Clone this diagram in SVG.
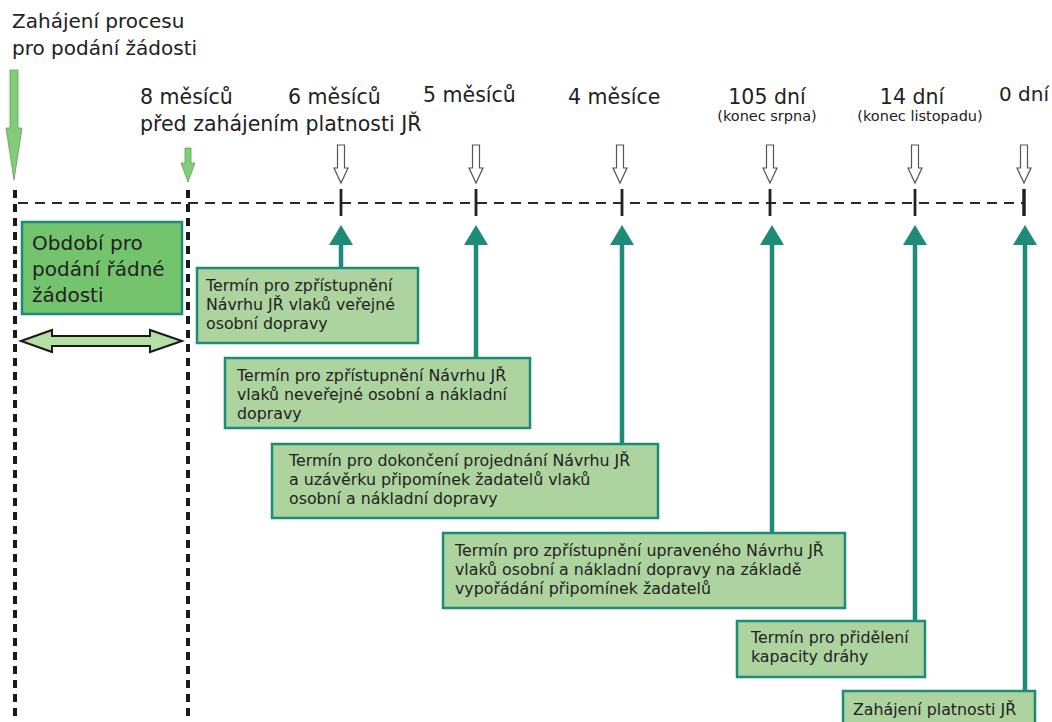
<svg xmlns="http://www.w3.org/2000/svg" width="1052" height="722" viewBox="0 0 1052 722">
<defs>
<style>
.t{font-family:"DejaVu Sans","Verdana",sans-serif;fill:#222}
.lab{font-size:20.5px}
.sm{font-size:14.5px}
.bx{font-size:15.8px}
.box{fill:#add39f;stroke:#1d8b78;stroke-width:2.5}
.vd{stroke:#1a1a1a;stroke-width:4;stroke-dasharray:8 6;fill:none}
.hd{stroke:#2a2a2a;stroke-width:2.2;stroke-dasharray:10 7;fill:none}
.tick{stroke:#222;stroke-width:2.8}
.hol{fill:#fff;stroke:#555;stroke-width:1.2}
.tl{stroke:#1d8b78;stroke-width:4.5;fill:none}
.th{fill:#1d8b78}
</style>
<path id="hollow" d="M-3.5,0 H3.5 V23 H7 L0,38 L-7,23 H-3.5 Z" class="hol"/>
<path id="thead" d="M0,0 L12,20 L-12,20 Z" class="th"/>
</defs>

<g id="top-labels">
<text class="t" x="12" y="28" style="font-size:20px">Zahájení procesu</text>
<text class="t" x="12" y="55" style="font-size:20px">pro podání žádosti</text>
<text class="t lab" x="140" y="104">8 měsíců</text>
<text class="t lab" x="140" y="131">před zahájením platnosti JŘ</text>
<text class="t lab" x="288" y="104">6 měsíců</text>
<text class="t lab" x="423" y="102">5 měsíců</text>
<text class="t lab" x="568" y="104">4 měsíce</text>
<text class="t lab" x="767" y="104" text-anchor="middle">105 dní</text>
<text class="t sm" x="767" y="121" text-anchor="middle">(konec srpna)</text>
<text class="t lab" x="912" y="104" text-anchor="middle">14 dní</text>
<text class="t sm" x="920" y="121" text-anchor="middle">(konec listopadu)</text>
<text class="t lab" x="999" y="101" style="font-size:20px">0 dní</text>
</g>

<g id="timeline">
<line class="hd" x1="18" y1="203" x2="1024" y2="203"/>
<line class="vd" x1="15" y1="190" x2="15" y2="722"/>
<line class="vd" x1="188" y1="190" x2="188" y2="722"/>
<line class="tick" x1="341" y1="189" x2="341" y2="216"/>
<line class="tick" x1="476" y1="189" x2="476" y2="216"/>
<line class="tick" x1="622" y1="189" x2="622" y2="216"/>
<line class="tick" x1="770" y1="189" x2="770" y2="216"/>
<line class="tick" x1="915" y1="189" x2="915" y2="216"/>
<line class="tick" x1="1024" y1="189" x2="1024" y2="216" style="stroke-width:3.5"/>
</g>

<g id="start-arrows">
<path d="M10,70 H18 V128 H22 L14,180 L6,128 H10 Z" fill="#83cc7a" stroke="#5aa352" stroke-width="0.8"/>
<path d="M185,148 H191 V163 H195 L188,182 L181,163 H185 Z" fill="#83cc7a" stroke="#5aa352" stroke-width="0.8"/>
</g>

<g id="hollow-arrows">
<use href="#hollow" x="341" y="145"/>
<use href="#hollow" x="476" y="145"/>
<use href="#hollow" x="620" y="145"/>
<use href="#hollow" x="770" y="145"/>
<use href="#hollow" x="915" y="145"/>
<use href="#hollow" x="1024" y="145"/>
</g>

<g id="connectors">
<line class="tl" x1="341" y1="240" x2="341" y2="268"/><use href="#thead" x="341" y="225"/>
<line class="tl" x1="476" y1="240" x2="476" y2="358"/><use href="#thead" x="476" y="225"/>
<line class="tl" x1="622" y1="240" x2="622" y2="444"/><use href="#thead" x="622" y="225"/>
<line class="tl" x1="772" y1="240" x2="772" y2="533"/><use href="#thead" x="772" y="225"/>
<line class="tl" x1="915" y1="240" x2="915" y2="621"/><use href="#thead" x="915" y="225"/>
<line class="tl" x1="1025" y1="240" x2="1025" y2="691"/><use href="#thead" x="1025" y="225"/>
</g>

<g id="period">
<rect x="22" y="222" width="160" height="92" fill="#74c46e" stroke="#1d8b78" stroke-width="2.5"/>
<text class="t" x="32" y="250" style="font-size:20px">Období pro</text>
<text class="t" x="32" y="276" style="font-size:20px">podání řádné</text>
<text class="t" x="32" y="302" style="font-size:20px">žádosti</text>
</g>

<g id="double-arrow">
<path d="M21,341 L52,330 V336 H150 V330 L182,341 L150,352 V346 H52 V352 Z" fill="#b5e0a5" stroke="#1a1a1a" stroke-width="2"/>
</g>

<g id="box1">
<rect class="box" x="197" y="268" width="221" height="75"/>
<text class="t bx" x="206" y="291">Termín pro zpřístupnění</text>
<text class="t bx" x="206" y="310">Návrhu JŘ vlaků veřejné</text>
<text class="t bx" x="206" y="329">osobní dopravy</text>
</g>

<g id="box2">
<rect class="box" x="225" y="358" width="305" height="70"/>
<text class="t bx" x="237" y="381">Termín pro zpřístupnění Návrhu JŘ</text>
<text class="t bx" x="237" y="400">vlaků neveřejné osobní a nákladní</text>
<text class="t bx" x="237" y="419">dopravy</text>
</g>

<g id="box3">
<rect class="box" x="272" y="444" width="386" height="74"/>
<text class="t bx" x="289" y="466">Termín pro dokončení projednání Návrhu JŘ</text>
<text class="t bx" x="289" y="485">a uzávěrku připomínek žadatelů vlaků</text>
<text class="t bx" x="289" y="504">osobní a nákladní dopravy</text>
</g>

<g id="box4">
<rect class="box" x="443" y="533" width="402" height="75"/>
<text class="t bx" x="455" y="556">Termín pro zpřístupnění upraveného Návrhu JŘ</text>
<text class="t bx" x="455" y="575">vlaků osobní a nákladní dopravy na základě</text>
<text class="t bx" x="455" y="594">vypořádání připomínek žadatelů</text>
</g>

<g id="box5">
<rect class="box" x="737" y="621" width="188" height="56"/>
<text class="t bx" x="751" y="643">Termín pro přidělení</text>
<text class="t bx" x="751" y="662">kapacity dráhy</text>
</g>

<g id="box6">
<rect class="box" x="843" y="691" width="192" height="40"/>
<text class="t bx" x="853" y="715">Zahájení platnosti JŘ</text>
</g>
</svg>
